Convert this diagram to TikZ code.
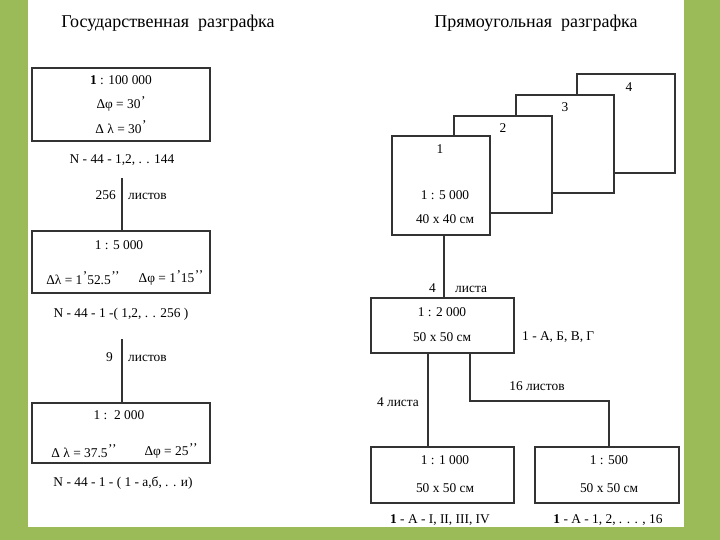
\documentclass[tikz,border=0pt]{standalone}
\usepackage{fontspec}
\setmainfont{Liberation Serif}
\definecolor{frame}{HTML}{9BBB59}
\newcommand{\pr}{\kern0.5pt\raisebox{0.25em}{’}}
\newcommand{\ppr}{\kern0.5pt\raisebox{0.25em}{’\kern-0.5pt’}}
\begin{document}
\begin{tikzpicture}[x=1pt,y=-1pt,
  box/.style={draw=black!80, line width=1.1pt, fill=white, inner sep=0pt},
  txt/.style={font=\fontsize{13.4}{15}\selectfont, inner sep=0pt},
  ttl/.style={font=\fontsize{18}{21}\selectfont, inner sep=0pt},
  ln/.style={draw=black!80, line width=1.1pt}]
\useasboundingbox (0,0) rectangle (720,540);
\fill[frame] (0,0) rectangle (720,540);
\fill[white] (28,0) rectangle (684,527);

% ---------- left column ----------
\node[ttl] (t1) at (168,23) {Государственная\ \ разграфка};

\node[box, minimum width=178pt, minimum height=73pt] (b1) at (121,104.5) {};
\node[txt] (b1a) at (121,80) {\textbf{1} : 100 000};
\node[txt] (b1b) at (121,104) {Δφ = 30\pr};
\node[txt] (b1c) at (121,127) {Δ λ = 30\pr};
\node[txt] (n1) at (122,160) {N - 44 - 1,2, . . 144};

\coordinate (c1) at (122,178);
\node[box, minimum width=178pt, minimum height=62pt] (b2) at (121,262) {};
\draw[ln] (c1) -- (b2.north -| c1);
\node[txt, anchor=east] (l1a) at (116,195) {256};
\node[txt, anchor=west] (l1b) at (128,196) {листов};
\node[txt] (b2a) at (119,245) {1 : 5 000};
\node[txt] (b2b) at (83,278) {Δλ = 1\pr52.5\ppr};
\node[txt] (b2c) at (171,278) {Δφ = 1\pr15\ppr};
\node[txt] (n2) at (121,314) {N - 44 - 1 -( 1,2, . . 256 )};

\coordinate (c2) at (122,339);
\node[box, minimum width=178pt, minimum height=60pt] (b3) at (121,433) {};
\draw[ln] (c2) -- (b3.north -| c2);
\node[txt, anchor=east] (l2a) at (113,357) {9};
\node[txt, anchor=west] (l2b) at (128,358) {листов};
\node[txt] (b3a) at (119,415) {1 :\ \ 2 000};
\node[txt] (b3b) at (84,451) {Δ λ = 37.5\ppr};
\node[txt] (b3c) at (171,451) {Δφ = 25\ppr};
\node[txt] (n3) at (123,483) {N - 44 - 1 - ( 1 - а,б, . . и)};

% ---------- right column ----------
\node[ttl] (t2) at (536,23) {Прямоугольная\ \ разграфка};

\node[box, minimum width=98pt, minimum height=99pt] (s4) at (626,123.5) {};
\node[box, minimum width=98pt, minimum height=98pt] (s3) at (565,144) {};
\node[box, minimum width=98pt, minimum height=97pt] (s2) at (503,164.5) {};
\node[box, minimum width=98pt, minimum height=99pt] (s1) at (441,185.5) {};
\node[txt] (s4l) at (629,87) {4};
\node[txt] (s3l) at (565,107) {3};
\node[txt] (s2l) at (503,128) {2};
\node[txt] (s1l) at (440,149) {1};
\node[txt] (s1a) at (445,195) {1 : 5 000};
\node[txt] (s1b) at (445,219) {40 x 40 см};

\node[box, minimum width=143pt, minimum height=55pt] (m) at (442.5,325.5) {};
\draw[ln] (s1.south -| 444,0) -- (m.north -| 444,0);
\node[txt, anchor=east] (l3a) at (436,288) {4};
\node[txt, anchor=west] (l3b) at (455,289) {листа};
\node[txt] (ma) at (442,312) {1 : 2 000};
\node[txt] (mb) at (442,337) {50 x 50 см};
\node[txt, anchor=west] (mc) at (522,337) {1 - А, Б, В, Г};

\node[box, minimum width=143pt, minimum height=56pt] (k1) at (442.5,475) {};
\node[box, minimum width=144pt, minimum height=56pt] (k2) at (607,475) {};
\draw[ln] (m.south -| 428,0) -- (k1.north -| 428,0);
\coordinate (j1) at (470,401);
\coordinate (j2) at (609,401);
\draw[ln] (m.south -| j1) -- (j1) -- (j2) -- (k2.north -| j2);
\node[txt] (l4) at (398,402) {4 листа};
\node[txt] (l5) at (537,386) {16 листов};
\node[txt] (k1a) at (445,460) {1 : 1 000};
\node[txt] (k1b) at (445,488) {50 x 50 см};
\node[txt] (k2a) at (609,460) {1 : 500};
\node[txt] (k2b) at (609,488) {50 x 50 см};
\node[txt] (k1c) at (440,520) {\textbf{1} - А - I, II, III, IV};
\node[txt] (k2c) at (608,520) {\textbf{1} - А - 1, 2, . . . , 16};
\end{tikzpicture}
\end{document}
